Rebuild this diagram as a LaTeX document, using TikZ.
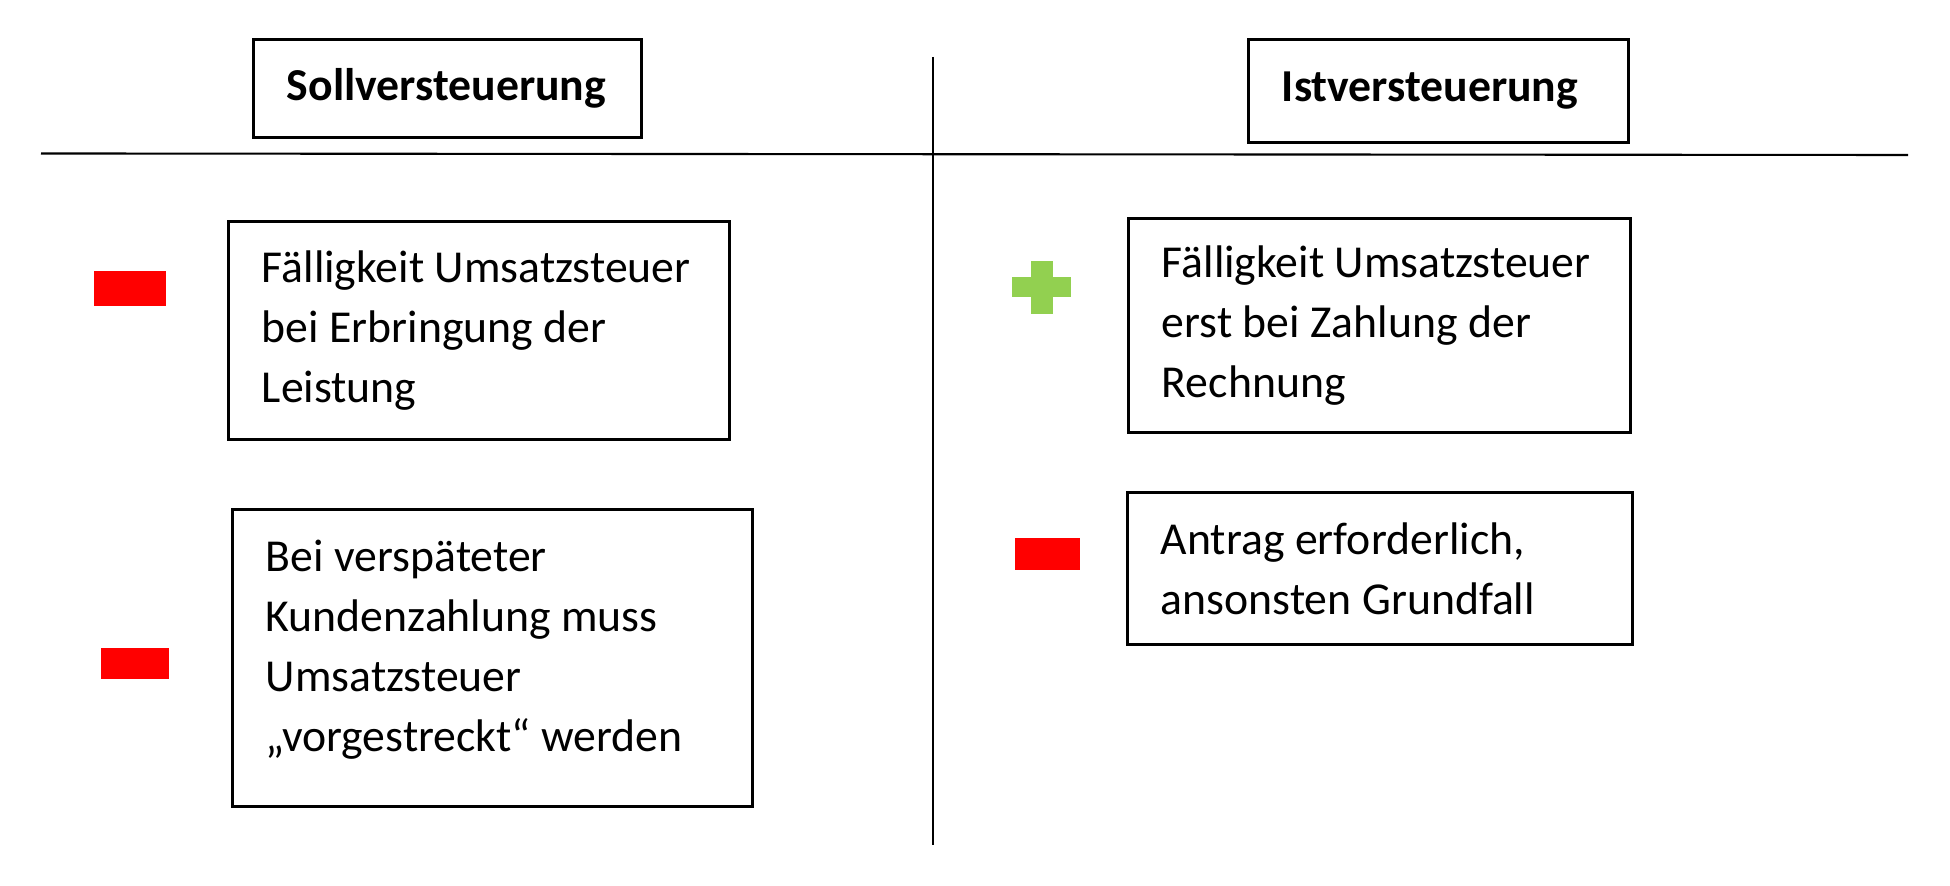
\documentclass[tikz,border=0pt]{standalone}
\usepackage{fontspec}
\setmainfont{Carlito}
\usetikzlibrary{positioning}
\definecolor{minusred}{RGB}{255,0,0}
\definecolor{plusgreen}{RGB}{146,208,80}
\tikzset{
  box/.style={draw=black,line width=0.85pt,inner xsep=0.33cm,inner ysep=0pt,
    align=left,font=\fontsize{13}{17.1}\selectfont,
    execute at begin node={\spaceskip=0.23em plus 0.1em\relax}},
  head/.style={box,font=\fontsize{13}{17.1}\selectfont\bfseries},
  minusbar/.style={fill=minusred,inner sep=0pt},
  divider/.style={line width=0.6pt,draw=black},
  % pictogram
  pics/plus/.style={code={
    \fill[#1] (-29.5,-10) rectangle (29.5,10);
    \fill[#1] (-11,-26.5) rectangle (11,26.5);
  }},
  pics/plus/.default=plusgreen,
}
\begin{document}
\begin{tikzpicture}[x=0.01cm,y=-0.01cm]
  \useasboundingbox (0,0) rectangle (1950,886);
  % column heads
  \node[head,text width=3.21cm,minimum height=0.97cm] (soll) at (447.5,88.5) {Sollversteuerung};
  \node[head,text width=3.13cm,minimum height=1.02cm] (ist) at (1438.5,91) {Istversteuerung};
  % dividing cross
  \coordinate (hl) at (41,153.5);
  \coordinate (hr) at (1908,155);
  \coordinate (vt) at (933,57);
  \coordinate (vb) at (933,845);
  \draw[divider] (hl) -- (hr);
  \draw[divider] (vt) -- (vb);
  % left column
  \node[box,text width=4.34cm,minimum height=2.17cm] (soll1) at (479,330.5)
    {Fälligkeit Umsatzsteuer\\bei Erbringung der\\Leistung};
  \node[box,text width=4.53cm,minimum height=2.96cm,text depth=2.05cm] (soll2) at (492.5,658)
    {Bei verspäteter\\Kundenzahlung muss\\Umsatzsteuer\\„vorgestreckt“ werden};
  \node[minusbar,minimum width=0.72cm,minimum height=0.35cm] (m1) at (130,288.5) {};
  \node[minusbar,minimum width=0.68cm,minimum height=0.31cm] (m2) at (135,663.5) {};
  % right column
  \node[box,text width=4.35cm,minimum height=2.13cm] (ist1) at (1379.5,325.5)
    {Fälligkeit Umsatzsteuer\\erst bei Zahlung der\\Rechnung};
  \node[box,text width=4.38cm,minimum height=1.51cm] (ist2) at (1380,568.5)
    {Antrag erforderlich,\\ansonsten Grundfall};
  \pic (p1) at (1041.5,287.5) {plus};
  \node[minusbar,minimum width=0.65cm,minimum height=0.32cm] (m3) at (1047.5,554) {};
\end{tikzpicture}
\end{document}
